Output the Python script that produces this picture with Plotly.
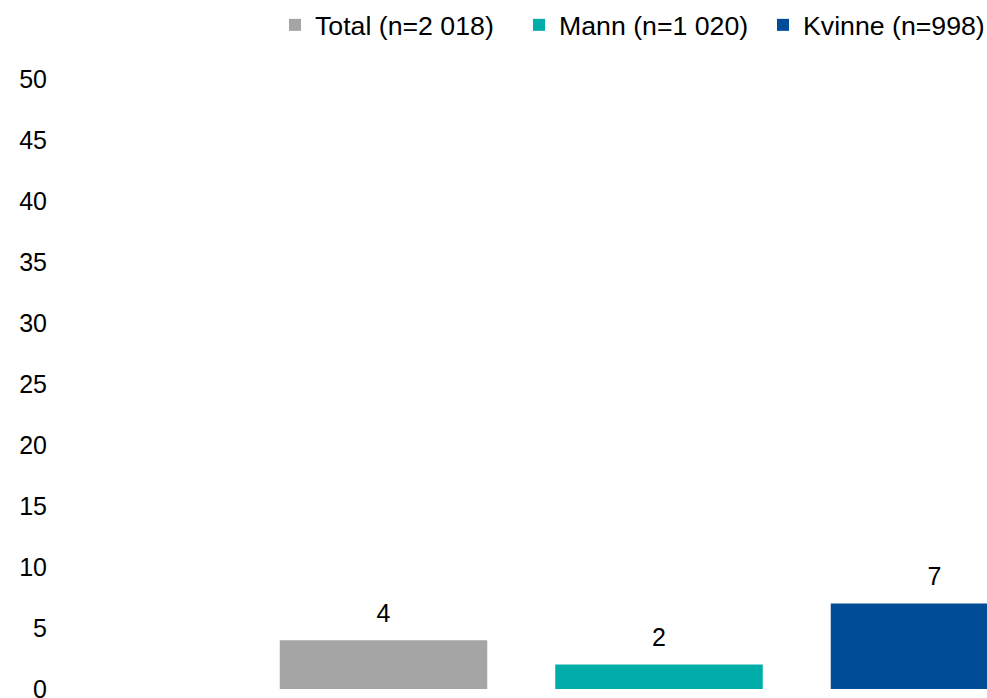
import plotly.graph_objects as go

categories = [""]
series_names = ["Total (n=2 018)", "Mann (n=1 020)", "Kvinne (n=998)"]
series_values = [[4], [2], [7]]
colors = ["#A5A5A5", "#00ADA8", "#004C97"]
y_ticks = [0, 5, 10, 15, 20, 25, 30, 35, 40, 45, 50]

FONT = "Liberation Sans, Arial, sans-serif"
FS = 25

fig = go.Figure()
for i, (name, vals, col) in enumerate(zip(series_names, series_values, colors)):
    fig.add_trace(go.Bar(
        x=categories, y=vals, name=name, offsetgroup=str(i),
        marker=dict(color=col, line=dict(width=0)),
    ))
for i, (name, vals) in enumerate(zip(series_names, series_values)):
    fig.add_trace(go.Scatter(
        x=categories, y=vals, name=name, offsetgroup=str(i),
        mode="markers+text", text=[str(v) for v in vals],
        textposition="top center",
        marker=dict(size=18, opacity=0),
        textfont=dict(family=FONT, size=FS, color="#000000"),
        showlegend=False, hoverinfo="skip", cliponaxis=False,
    ))

L = 48
W = 987
bargap = 0.2
px_per_unit = 826.5 / (1 - bargap)
center_px = 659
x0 = (L - center_px) / px_per_unit
x1 = (W - center_px) / px_per_unit

fig.update_layout(
    width=987, height=698,
    margin=dict(l=L, r=0, t=79, b=9, pad=0, autoexpand=False),
    paper_bgcolor="white", plot_bgcolor="white",
    barmode="group", bargap=bargap, bargroupgap=68 / 275.5,
    scattermode="group", scattergap=bargap,
    font=dict(family=FONT, size=FS, color="#000000"),
    showlegend=True,
    legend=dict(orientation="h", xref="container", yref="container",
                x=275 / 987, xanchor="left", y=1 - 25 / 698, yanchor="middle",
                font=dict(family=FONT, size=26.7, color="#000000"),
                itemwidth=30, entrywidth=199, traceorder="normal",
                bgcolor="rgba(0,0,0,0)"),
    xaxis=dict(range=[x0, x1], showticklabels=False, showgrid=False,
               zeroline=False, showline=False, ticks="", automargin=False),
    yaxis=dict(range=[0, 50], tickvals=y_ticks, showgrid=False, zeroline=False,
               showline=False, ticks="", ticklabeloverflow="allow",
               automargin=False, tickfont=dict(family=FONT, size=FS)),
)

fig.write_html("out.html", config={"displayModeBar": False},
               post_script="document.body.style.margin='0';")
